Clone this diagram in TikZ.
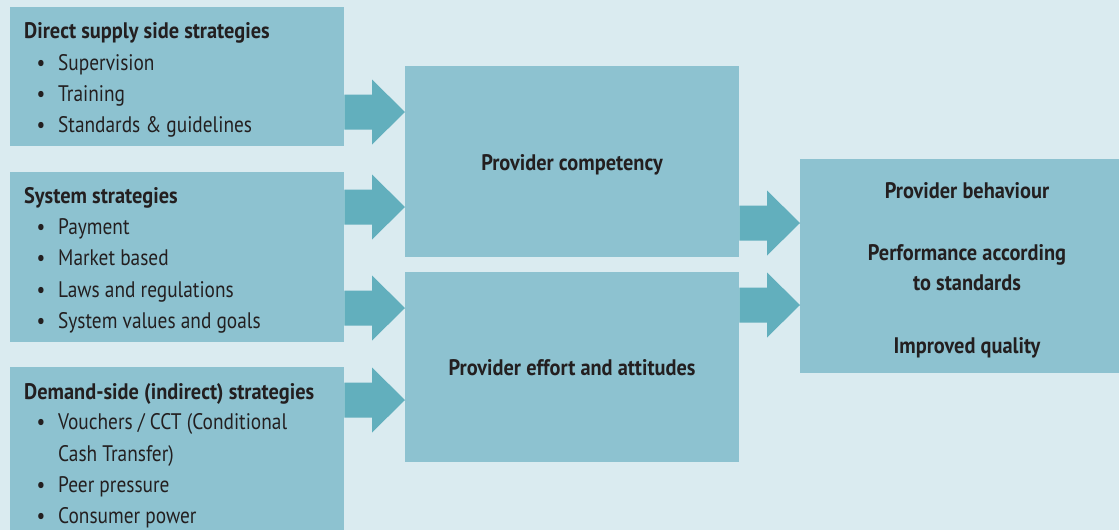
\documentclass[tikz,border=0pt]{standalone}
\usepackage{fontspec}
\setmainfont{PT Sans}[FakeStretch=0.86, BoldFeatures={FakeStretch=0.905}]
\usetikzlibrary{calc}
\definecolor{bgc}{HTML}{DAEBF0}
\definecolor{boxc}{HTML}{8DC2D0}
\definecolor{arrc}{HTML}{62AFBD}
\definecolor{txtc}{HTML}{231F20}
\newcommand\blockarrow[3]{%
  \coordinate (s) at (#1.east |- 0,#3);
  \coordinate (t) at (#2.west |- 0,#3);
  \fill[arrc] ($(s)+(0,-17.5)$) -- ($(t)+(-33,-17.5)$) -- ($(t)+(-33,-32.5)$) -- (t)
    -- ($(t)+(-33,32.5)$) -- ($(t)+(-33,17.5)$) -- ($(s)+(0,17.5)$) -- cycle;}
\begin{document}
\begin{tikzpicture}[x=1pt,y=-1pt,
  panel/.style={fill=boxc, draw=none, rectangle, anchor=north west, inner sep=0pt},
  lbl/.style={text=txtc, inner sep=0pt, font=\fontsize{22.5}{31}\selectfont},
  ttl/.style={lbl, font=\fontsize{22.5}{31}\selectfont\bfseries},
  bul/.style={lbl, anchor=base}]
\fill[bgc] (0,0) rectangle (1119,530);
\useasboundingbox (0,0) rectangle (1119,530);
\begin{scope}
\clip (0,0) rectangle (1119,530);
\node[panel, minimum width=334pt, minimum height=139pt] (A) at (10,7) {};
\node[panel, minimum width=334pt, minimum height=170pt] (B) at (10,172) {};
\node[panel, minimum width=334pt, minimum height=175pt] (C) at (10,367) {};
\node[panel, minimum width=334pt, minimum height=191pt] (P1) at (405,66) {};
\node[panel, minimum width=334pt, minimum height=190pt] (P2) at (405,272) {};
\node[panel, minimum width=319pt, minimum height=214pt] (R) at (800,159) {};
\end{scope}
\blockarrow{A}{P1}{112}
\blockarrow{B}{P1}{207}
\blockarrow{B}{P2}{308}
\blockarrow{C}{P2}{400}
\blockarrow{P1}{R}{223}
\blockarrow{P2}{R}{305}
% Box A
\node[ttl, anchor=base west] (a0) at (24,38) {Direct supply side strategies};
\node[bul] (a1b) at (41,70) {•}; \node[lbl, anchor=base west] (a1) at (58,70) {Supervision};
\node[bul] (a2b) at (41,101) {•}; \node[lbl, anchor=base west] (a2) at (58,101) {Training};
\node[bul] (a3b) at (41,132) {•}; \node[lbl, anchor=base west] (a3) at (58,132) {Standards \& guidelines};
% Box B
\node[ttl, anchor=base west] (b0) at (24,203) {System strategies};
\node[bul] (b1b) at (41,234) {•}; \node[lbl, anchor=base west] (b1) at (58,234) {Payment};
\node[bul] (b2b) at (41,265) {•}; \node[lbl, anchor=base west] (b2) at (58,265) {Market based};
\node[bul] (b3b) at (41,297) {•}; \node[lbl, anchor=base west] (b3) at (58,297) {Laws and regulations};
\node[bul] (b4b) at (41,328) {•}; \node[lbl, anchor=base west] (b4) at (58,328) {System values and goals};
% Box C
\node[ttl, anchor=base west] (c0) at (24,399) {Demand-side (indirect) strategies};
\node[bul] (c1b) at (41,429) {•}; \node[lbl, anchor=base west] (c1) at (58,429) {Vouchers / CCT (Conditional};
\node[lbl, anchor=base west] (c1x) at (58,461) {Cash Transfer)};
\node[bul] (c2b) at (41,492) {•}; \node[lbl, anchor=base west] (c2) at (58,492) {Peer pressure};
\node[bul] (c3b) at (41,523) {•}; \node[lbl, anchor=base west] (c3) at (58,523) {Consumer power};
% Middle
\node[ttl, anchor=base] (p1t) at (572,170) {Provider competency};
\node[ttl, anchor=base] (p2t) at (572,375) {Provider effort and attitudes};
% Right
\node[ttl, anchor=base] (r1) at (967,198) {Provider behaviour};
\node[ttl, anchor=base] (r2) at (967,260) {Performance according};
\node[ttl, anchor=base] (r3) at (967,290) {to standards};
\node[ttl, anchor=base] (r4) at (967,353) {Improved quality};
\end{tikzpicture}
\end{document}
